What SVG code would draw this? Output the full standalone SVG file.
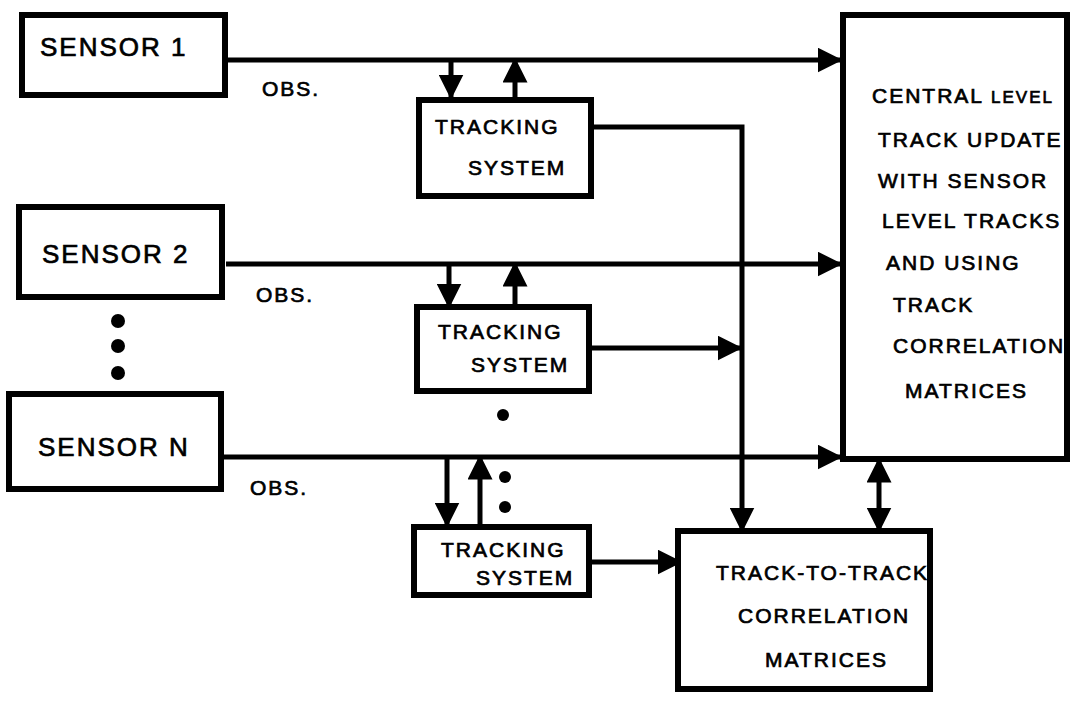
<svg xmlns="http://www.w3.org/2000/svg" width="1073" height="701" viewBox="0 0 1073 701">
<style>
.box{fill:#fff;stroke:#000;stroke-width:6}
.ln{fill:none;stroke:#000;stroke-width:5}
text{font-family:"Liberation Sans",Arial,sans-serif;fill:#000;stroke:#000;stroke-width:0.7;letter-spacing:2px}
.s{font-size:26px}
.t{font-size:21px}
.c{font-size:21px}
.o{font-size:21px}
</style>
<defs>
<marker id="ah" viewBox="0 0 10 10" refX="9" refY="5" markerWidth="5" markerHeight="5" orient="auto-start-reverse" markerUnits="strokeWidth">
<path d="M0,0 L10,5 L0,10 z" fill="#000"/>
</marker>
</defs>
<rect width="1073" height="701" fill="#fff"/>
<g id="connectors">
<path class="ln" d="M226,60 H840" marker-end="url(#ah)"/>
<path class="ln" d="M226,264 H840" marker-end="url(#ah)"/>
<path class="ln" d="M222,457 H840" marker-end="url(#ah)"/>
<path class="ln" d="M451,60 V97" marker-end="url(#ah)"/>
<path class="ln" d="M515,97 V60" marker-end="url(#ah)"/>
<path class="ln" d="M449,264 V306" marker-end="url(#ah)"/>
<path class="ln" d="M515,306 V264" marker-end="url(#ah)"/>
<path class="ln" d="M447,457 V525" marker-end="url(#ah)"/>
<path class="ln" d="M480,525 V457" marker-end="url(#ah)"/>
<path class="ln" d="M592,127 H742 V530" marker-end="url(#ah)"/>
<path class="ln" d="M590,348 H740" marker-end="url(#ah)"/>
<path class="ln" d="M590,562 H680" marker-end="url(#ah)"/>
<path class="ln" d="M879,460 V530" marker-start="url(#ah)" marker-end="url(#ah)"/>
</g>
<g id="dots">
<circle cx="118" cy="321" r="7"/>
<circle cx="118" cy="346" r="7"/>
<circle cx="118" cy="373" r="7"/>
<circle cx="503" cy="415" r="6"/>
<circle cx="505" cy="477" r="6"/>
<circle cx="505" cy="507" r="6"/>
</g>
<g id="sensor1">
<rect class="box" x="22" y="15" width="203" height="80"/>
<text class="s" x="40" y="56">SENSOR 1</text>
</g>
<g id="sensor2">
<rect class="box" x="19" y="207" width="203" height="90"/>
<text class="s" x="42" y="263">SENSOR 2</text>
</g>
<g id="sensorN">
<rect class="box" x="9" y="394" width="212" height="95"/>
<text class="s" x="38" y="456">SENSOR N</text>
</g>
<g id="obs-labels">
<text class="o" x="262" y="96">OBS.</text>
<text class="o" x="256" y="302">OBS.</text>
<text class="o" x="250" y="495">OBS.</text>
</g>
<g id="tracking1">
<rect class="box" x="419" y="100" width="172" height="96"/>
<text class="t" x="435" y="134">TRACKING</text>
<text class="t" x="468" y="175">SYSTEM</text>
</g>
<g id="tracking2">
<rect class="box" x="417" y="307" width="172" height="84"/>
<text class="t" x="438" y="339">TRACKING</text>
<text class="t" x="471" y="372">SYSTEM</text>
</g>
<g id="tracking3">
<rect class="box" x="414" y="527" width="175" height="68"/>
<text class="t" x="441" y="557">TRACKING</text>
<text class="t" x="476" y="585">SYSTEM</text>
</g>
<g id="central">
<rect class="box" x="843" y="15" width="224" height="444"/>
<text class="c" x="872" y="103">CENTRAL <tspan font-size="17">LEVEL</tspan></text>
<text class="c" x="878" y="147">TRACK UPDATE</text>
<text class="c" x="878" y="188">WITH SENSOR</text>
<text class="c" x="882" y="228">LEVEL TRACKS</text>
<text class="c" x="886" y="270">AND USING</text>
<text class="c" x="893" y="312">TRACK</text>
<text class="c" x="893" y="353">CORRELATION</text>
<text class="c" x="905" y="398">MATRICES</text>
</g>
<g id="track-to-track">
<rect class="box" x="678" y="531" width="252" height="158"/>
<text class="c" x="716" y="580">TRACK-TO-TRACK</text>
<text class="c" x="738" y="623">CORRELATION</text>
<text class="c" x="765" y="667">MATRICES</text>
</g>
</svg>
